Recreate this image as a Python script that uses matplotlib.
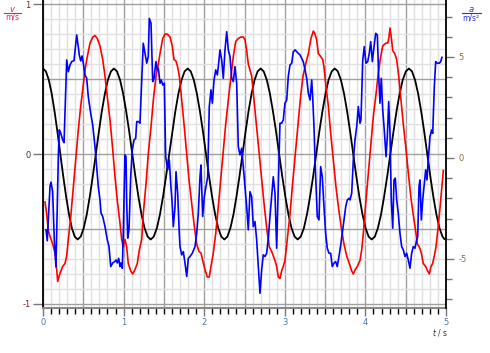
import matplotlib
matplotlib.use('Agg')
import matplotlib.pyplot as plt
from matplotlib.ticker import MultipleLocator, FixedLocator
from matplotlib.lines import Line2D

plt.rcParams['axes.unicode_minus'] = False

# black curve (left axis)
black_t = [0.0, 0.036, 0.072, 0.108, 0.143, 0.179, 0.215, 0.251, 0.287, 0.323, 0.358, 0.394,
           0.43, 0.468, 0.505, 0.543, 0.58, 0.618, 0.655, 0.693, 0.73, 0.768, 0.805, 0.843,
           0.88, 0.918, 0.956, 0.994, 1.032, 1.07, 1.108, 1.146, 1.184, 1.222, 1.26, 1.298,
           1.336, 1.374, 1.413, 1.451, 1.489, 1.527, 1.566, 1.604, 1.642, 1.68, 1.719, 1.757,
           1.795, 1.833, 1.871, 1.909, 1.947, 1.985, 2.023, 2.06, 2.098, 2.136, 2.174, 2.212,
           2.25, 2.288, 2.325, 2.363, 2.4, 2.438, 2.475, 2.513, 2.55, 2.588, 2.625, 2.663,
           2.7, 2.738, 2.777, 2.815, 2.853, 2.892, 2.93, 2.968, 3.007, 3.045, 3.083, 3.122,
           3.16, 3.198, 3.237, 3.275, 3.313, 3.352, 3.39, 3.428, 3.467, 3.505, 3.543, 3.582,
           3.62, 3.658, 3.696, 3.735, 3.773, 3.811, 3.849, 3.887, 3.925, 3.964, 4.002, 4.04,
           4.078, 4.117, 4.155, 4.194, 4.232, 4.271, 4.309, 4.348, 4.386, 4.425, 4.463, 4.502,
           4.54, 4.578, 4.616, 4.654, 4.692, 4.73, 4.768, 4.805, 4.843, 4.881, 4.919, 4.957, 4.98]
black_v = [0.57, 0.551, 0.494, 0.403, 0.285, 0.148, 0.0, -0.148, -0.285, -0.403, -0.494, -0.551,
           -0.57, -0.551, -0.494, -0.403, -0.285, -0.148, 0.0, 0.148, 0.285, 0.403, 0.494, 0.551,
           0.57, 0.551, 0.494, 0.403, 0.285, 0.148, 0.0, -0.148, -0.285, -0.403, -0.494, -0.551,
           -0.57, -0.551, -0.494, -0.403, -0.285, -0.148, 0.0, 0.148, 0.285, 0.403, 0.494, 0.551,
           0.57, 0.551, 0.494, 0.403, 0.285, 0.148, 0.0, -0.148, -0.285, -0.403, -0.494, -0.551,
           -0.57, -0.551, -0.494, -0.403, -0.285, -0.148, 0.0, 0.148, 0.285, 0.403, 0.494, 0.551,
           0.57, 0.551, 0.494, 0.403, 0.285, 0.148, 0.0, -0.148, -0.285, -0.403, -0.494, -0.551,
           -0.57, -0.551, -0.494, -0.403, -0.285, -0.148, 0.0, 0.148, 0.285, 0.403, 0.494, 0.551,
           0.57, 0.551, 0.494, 0.403, 0.285, 0.148, 0.0, -0.148, -0.285, -0.403, -0.494, -0.551,
           -0.57, -0.551, -0.494, -0.403, -0.285, -0.148, 0.0, 0.148, 0.285, 0.403, 0.494, 0.551,
           0.57, 0.551, 0.494, 0.403, 0.285, 0.148, 0.0, -0.148, -0.285, -0.403, -0.494, -0.551, -0.567]

# velocity v in m/s (left axis)
red_t = [0.025, 0.046, 0.066, 0.087, 0.12, 0.149, 0.17, 0.182, 0.202, 0.223, 0.244, 0.273, 0.294,
         0.314, 0.344, 0.376, 0.409, 0.438, 0.468, 0.493, 0.521, 0.55, 0.583, 0.617, 0.645, 0.674,
         0.707, 0.741, 0.769, 0.798, 0.831, 0.865, 0.893, 0.922, 0.955, 0.976, 0.996, 1.017, 1.038,
         1.058, 1.088, 1.113, 1.141, 1.17, 1.195, 1.225, 1.244, 1.278, 1.306, 1.34, 1.369, 1.402,
         1.431, 1.452, 1.485, 1.514, 1.542, 1.576, 1.604, 1.625, 1.65, 1.671, 1.691, 1.721, 1.753,
         1.783, 1.811, 1.845, 1.877, 1.907, 1.935, 1.96, 1.981, 2.01, 2.038, 2.063, 2.084, 2.113,
         2.143, 2.175, 2.208, 2.237, 2.267, 2.299, 2.333, 2.361, 2.391, 2.423, 2.453, 2.485, 2.506,
         2.527, 2.547, 2.568, 2.589, 2.618, 2.651, 2.684, 2.713, 2.746, 2.779, 2.808, 2.837, 2.857,
         2.878, 2.899, 2.919, 2.94, 2.961, 2.981, 3.002, 3.031, 3.065, 3.093, 3.127, 3.16, 3.192,
         3.226, 3.259, 3.292, 3.325, 3.354, 3.375, 3.396, 3.416, 3.445, 3.47, 3.486, 3.511, 3.54,
         3.569, 3.602, 3.635, 3.669, 3.706, 3.734, 3.768, 3.8, 3.83, 3.85, 3.875, 3.9, 3.933, 3.954,
         3.974, 4.004, 4.036, 4.069, 4.098, 4.132, 4.16, 4.19, 4.215, 4.234, 4.256, 4.277, 4.293,
         4.305, 4.321, 4.339, 4.364, 4.388, 4.413, 4.438, 4.47, 4.504, 4.537, 4.569, 4.603, 4.628,
         4.644, 4.669, 4.694, 4.718, 4.748, 4.773, 4.793, 4.814, 4.835, 4.855, 4.876, 4.904, 4.934,
         4.967]
red_v = [-0.32, -0.4, -0.51, -0.55, -0.6, -0.66, -0.77, -0.85, -0.81, -0.78, -0.75, -0.73, -0.68,
         -0.57, -0.42, -0.22, -0.02, 0.16, 0.32, 0.43, 0.56, 0.65, 0.74, 0.78, 0.79, 0.77,
         0.72, 0.63, 0.52, 0.38, 0.23, 0.03, -0.15, -0.31, -0.46, -0.57, -0.62, -0.57, -0.62,
         -0.73, -0.78, -0.8, -0.77, -0.73, -0.64, -0.57, -0.4, -0.2, 0.0, 0.18, 0.36, 0.52,
         0.6, 0.67, 0.77, 0.8, 0.8, 0.78, 0.72, 0.63, 0.62, 0.58, 0.52, 0.36, 0.18,
         0.0, -0.17, -0.33, -0.48, -0.6, -0.65, -0.66, -0.71, -0.77, -0.82, -0.82, -0.75, -0.66,
         -0.53, -0.35, -0.15, 0.03, 0.2, 0.36, 0.52, 0.65, 0.75, 0.77, 0.78, 0.78, 0.76,
         0.69, 0.6, 0.56, 0.52, 0.36, 0.18, 0.0, -0.17, -0.35, -0.51, -0.62, -0.65, -0.68,
         -0.71, -0.75, -0.82, -0.83, -0.78, -0.75, -0.71, -0.57, -0.4, -0.22, -0.02, 0.18, 0.36,
         0.52, 0.6, 0.67, 0.77, 0.82, 0.8, 0.76, 0.67, 0.65, 0.63, 0.58, 0.45, 0.32,
         0.14, -0.04, -0.22, -0.37, -0.51, -0.6, -0.68, -0.73, -0.78, -0.8, -0.77, -0.75, -0.71, -0.64,
         -0.53, -0.33, -0.13, 0.07, 0.25, 0.4, 0.54, 0.65, 0.72, 0.73, 0.74, 0.74, 0.78,
         0.84, 0.78, 0.69, 0.67, 0.63, 0.52, 0.38, 0.2, 0.03, -0.15, -0.31, -0.44, -0.53,
         -0.6, -0.62, -0.66, -0.73, -0.75, -0.78, -0.8, -0.75, -0.73, -0.68, -0.62, -0.48, -0.31,
         -0.11]

# acceleration a in m/s^2 (right axis)
blue_t = [0.037, 0.053, 0.087, 0.099, 0.12, 0.14, 0.161, 0.19, 0.202, 0.22, 0.244, 0.261, 0.294,
          0.314, 0.335, 0.356, 0.385, 0.418, 0.438, 0.45, 0.468, 0.484, 0.5, 0.521, 0.542, 0.562,
          0.592, 0.617, 0.645, 0.666, 0.686, 0.707, 0.72, 0.741, 0.769, 0.798, 0.819, 0.84, 0.865,
          0.89, 0.906, 0.922, 0.939, 0.955, 0.968, 0.984, 0.996, 1.017, 1.03, 1.038, 1.051, 1.067,
          1.088, 1.108, 1.129, 1.15, 1.163, 1.187, 1.203, 1.225, 1.244, 1.266, 1.287, 1.306, 1.319,
          1.34, 1.361, 1.377, 1.402, 1.418, 1.431, 1.452, 1.468, 1.485, 1.505, 1.522, 1.547, 1.567,
          1.584, 1.6, 1.617, 1.638, 1.65, 1.671, 1.691, 1.7, 1.721, 1.741, 1.762, 1.783, 1.803,
          1.824, 1.852, 1.886, 1.907, 1.927, 1.948, 1.96, 1.981, 2.001, 2.022, 2.043, 2.063, 2.084,
          2.101, 2.122, 2.143, 2.163, 2.175, 2.196, 2.217, 2.237, 2.258, 2.279, 2.299, 2.32, 2.341,
          2.361, 2.382, 2.403, 2.423, 2.444, 2.465, 2.485, 2.506, 2.527, 2.547, 2.568, 2.589, 2.609,
          2.63, 2.651, 2.671, 2.692, 2.713, 2.733, 2.754, 2.775, 2.795, 2.816, 2.837, 2.857, 2.878,
          2.899, 2.919, 2.94, 2.961, 2.981, 3.002, 3.024, 3.043, 3.064, 3.086, 3.105, 3.127, 3.148,
          3.167, 3.189, 3.21, 3.229, 3.251, 3.272, 3.292, 3.313, 3.334, 3.346, 3.362, 3.378, 3.403,
          3.424, 3.445, 3.465, 3.486, 3.507, 3.527, 3.548, 3.569, 3.589, 3.61, 3.631, 3.651, 3.672,
          3.694, 3.713, 3.734, 3.756, 3.775, 3.797, 3.809, 3.83, 3.85, 3.871, 3.892, 3.912, 3.933,
          3.945, 3.967, 3.986, 4.007, 4.029, 4.048, 4.066, 4.086, 4.107, 4.128, 4.148, 4.165, 4.181,
          4.197, 4.215, 4.234, 4.256, 4.272, 4.289, 4.305, 4.321, 4.339, 4.355, 4.371, 4.388, 4.408,
          4.429, 4.45, 4.47, 4.491, 4.512, 4.532, 4.553, 4.574, 4.594, 4.615, 4.636, 4.649, 4.665,
          4.677, 4.694, 4.711, 4.727, 4.748, 4.764, 4.78, 4.801, 4.823, 4.835, 4.855, 4.872, 4.892,
          4.917, 4.934, 4.95]
blue_a = [-3.56, -4.1, -1.4, -1.2, -1.67, -4.06, -5.4, 0.06, 1.39, 1.23, 0.9, 0.76, 4.85,
          4.27, 4.6, 4.77, 4.82, 6.09, 5.5, 5.1, 4.8, 5.05, 4.69, 4.1, 3.95, 3.03,
          2.2, 1.63, 0.56, -0.43, -1.42, -2.08, -2.73, -2.9, -3.4, -4.06, -4.39, -5.38, -5.2,
          -5.13, -5.05, -5.2, -4.97, -5.38, -5.2, -5.46, -3.7, 0.15, 0.06, -2.08, -3.97, -3.56,
          -0.92, 0.4, 0.89, 0.97, 1.8, 1.8, 1.72, 3.86, 5.68, 5.18, 4.69, 5.02, 6.91,
          6.67, 3.78, 3.94, 4.77, 4.36, 4.44, 3.7, 3.86, 3.61, 3.7, 0.06, -0.59, -0.1,
          -1.25, -2.08, -3.4, -2.41, -0.68, -1.75, -3.73, -4.39, -4.8, -4.64, -5.21, -5.87, -4.97,
          -4.88, -4.72, -4.39, -3.73, -2.74, -0.93, -0.35, -2.9, -1.92, -1.42, -0.93, 2.54, 3.37,
          2.71, 3.86, 4.36, 4.11, 4.52, 5.35, 4.85, 3.94, 5.35, 6.25, 5.35, 5.02, 3.94,
          3.78, 4.52, 3.7, 0.56, 0.15, 0.48, -0.43, -1.42, -2.41, -3.56, -1.67, -1.92, -3.4,
          -3.15, -4.06, -5.38, -6.7, -5.54, -4.8, -4.88, -4.72, -3.98, -2.9, -1.92, -0.93, -1.75,
          -4.47, -1.42, 1.72, 1.72, 1.88, 2.71, 2.87, 4.02, 4.6, 4.69, 5.26, 5.35, 5.26,
          5.18, 5.1, 4.93, 4.77, 4.36, 3.94, 3.2, 2.87, 3.86, 3.03, 1.55, -0.43, -2.9,
          -3.07, -0.43, -0.93, -2.41, -3.73, -4.47, -4.72, -4.72, -5.38, -5.21, -5.13, -5.38, -4.88,
          -4.31, -3.73, -3.07, -2.41, -2.08, -2.0, -2.08, -1.75, -0.1, 0.89, 1.55, 2.54, 1.72,
          1.88, 4.85, 5.51, 4.69, 4.77, 5.18, 5.76, 4.77, 5.51, 6.17, 6.09, 4.02, 2.71,
          3.94, 2.38, 1.39, 0.06, 1.05, 2.79, 1.22, -2.08, -3.48, -1.09, -1.0, -2.08, -2.74,
          -3.73, -4.39, -4.55, -4.88, -4.72, -5.05, -5.46, -4.72, -4.39, -4.47, -4.06, -3.9, -1.42,
          -1.09, -3.07, -2.08, -1.42, -0.59, -1.09, -0.1, 1.05, 1.39, 1.22, 3.53, 4.77, 4.69,
          4.69, 4.77, 4.98]

fig = plt.figure(figsize=(4.9, 3.53), dpi=100)
ax = fig.add_axes([43/490, 1 - 308/353, 403/490, 308/353])
ax2 = ax.twinx()

# grid
ax.set_xlim(0, 5)
ax.set_ylim(-1.027, 1.027)
ax.xaxis.set_major_locator(MultipleLocator(1))
ax.xaxis.set_minor_locator(MultipleLocator(0.1))
ax.yaxis.set_major_locator(FixedLocator([-1, 0, 1]))
ax.yaxis.set_minor_locator(MultipleLocator(0.1))
for i in range(51):
    xv = i * 0.1
    if i % 5 == 0:
        ax.axvline(xv, color='#a0a0a0', lw=1.0, zorder=0)
    else:
        ax.axvline(xv, color='#e0e0e0', lw=1.0, zorder=0)
for i in range(-10, 11):
    yv = i * 0.1
    if i % 5 == 0:
        ax.axhline(yv, color='#a0a0a0', lw=1.0, zorder=0)
    else:
        ax.axhline(yv, color='#e0e0e0', lw=1.0, zorder=0)

ax.plot(black_t, black_v, color='black', lw=1.3, zorder=3)
ax.plot(red_t, red_v, color='#ff0000', lw=1.2, zorder=3)
ax2.plot(blue_t, blue_a, color='#0000ff', lw=1.2, zorder=3)
ax2.set_ylim(-7.43, 7.82)
ax2.yaxis.set_major_locator(FixedLocator([-5, 0, 5]))
ax2.yaxis.set_minor_locator(MultipleLocator(1))

for a in (ax, ax2):
    a.spines['top'].set_visible(False)
ax.spines['left'].set_color('black')
ax.spines['left'].set_linewidth(1.3)
ax2.spines['right'].set_color('black')
ax2.spines['right'].set_linewidth(1.3)
ax.spines['bottom'].set_color('#888888')
ax.spines['bottom'].set_linewidth(1.5)
ax2.spines['bottom'].set_visible(False)
ax2.spines['left'].set_visible(False)
ax.spines['right'].set_visible(False)

ax.tick_params(axis='x', which='major', length=6, width=1, color='#777777', labelsize=6,
               labelcolor='#4a78a8', pad=1)
ax.tick_params(axis='x', which='minor', length=4, width=1, color='black')
ax.tick_params(axis='y', which='major', length=7, width=1, color='#777777', labelsize=6, pad=2)
ax.tick_params(axis='y', which='minor', length=0)
ax2.tick_params(axis='y', which='major', length=6, width=1, color='#777777', labelsize=6,
                labelcolor='#8a6a3a', pad=3)
ax2.tick_params(axis='y', which='minor', length=4, width=1, color='#777777')
ax.set_yticklabels(['-1', '0', '1'])
for lab, c in zip(ax.get_yticklabels(), ['#8b1a1a', '#333333', '#8b1a1a']):
    lab.set_color(c)

# axis captions
fig.text(12/490, 1 - 9/353, 'v', color='#e0205a', fontsize=6, style='italic', ha='center', va='center')
fig.text(12/490, 1 - 17/353, 'm/s', color='#e0205a', fontsize=5.5, ha='center', va='center')
fig.add_artist(Line2D([4/490, 21/490], [1 - 13/353, 1 - 13/353], color='#e0205a', lw=0.8))
fig.text(471/490, 1 - 9/353, 'a', color='#3030e0', fontsize=6, style='italic', ha='center', va='center')
fig.text(471/490, 1 - 18/353, 'm/s²', color='#3030e0', fontsize=5.5, ha='center', va='center')
fig.add_artist(Line2D([462/490, 481/490], [1 - 13/353, 1 - 13/353], color='#3030e0', lw=0.8))
fig.text(440/490, 1 - 333/353, '$t$ / s', color='#333333', fontsize=5.5, ha='center', va='center')

plt.savefig('out.png', dpi=100)
